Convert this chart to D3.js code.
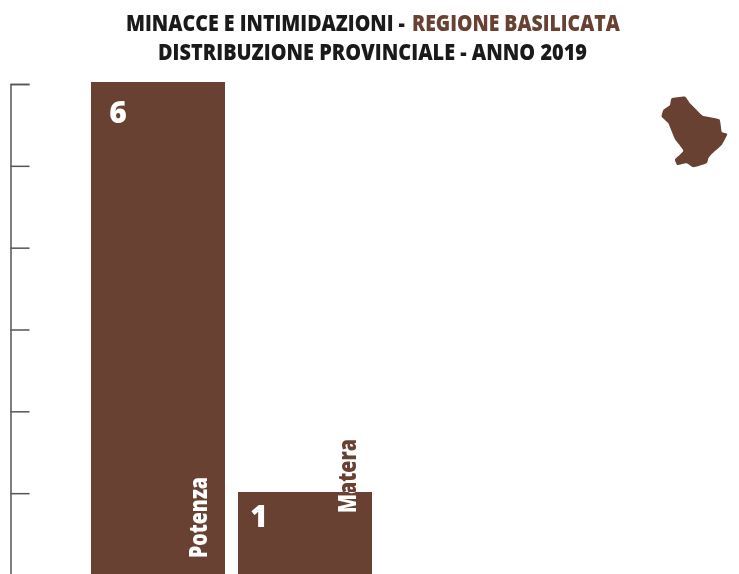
<!DOCTYPE html>
<html>
  <head>
    <meta charset="utf-8" />
    <title>Minacce e intimidazioni - Basilicata</title>
    <script src="https://d3js.org/d3.v7.min.js"></script>
    <style>
      html, body { margin: 0; padding: 0; background: #fff; }
      svg { display: block; filter: blur(0.6px); }
      text { font-family: "Open Sans", sans-serif; }
    </style>
  </head>

  <body>
    <svg id="viz"></svg>

    <script>
        var province = ["Potenza", "Matera"];
        var valori = [6, 1];
        var tickValori = [0, 1, 2, 3, 4, 5, 6];
        var mappaBasilicata = [[95,55],[135,50],[150,70],[165,85],[175,95],[190,108],[238,118],[245,155],[262,162],[245,195],[215,222],[205,235],[200,250],[160,262],[140,250],[112,255],[105,238],[130,212],[105,178],[85,130],[65,110],[70,90],[90,75]];

        var marrone = "#684133";
        var width = 739;
        var height = 574;

        var svg = d3.select("#viz")
            .attr("width", width)
            .attr("height", height);

        // due bande vuote a destra: il grafico occupa solo la parte sinistra
        var x = d3.scaleBand()
            .domain(province.concat(["", " "]))
            .range([91, 666])
            .paddingInner(13 / 147)
            .paddingOuter(0);

        var y = d3.scaleLinear().domain([0, 6]).range([574, 82]);
        var yAxisScale = d3.scaleLinear().domain([0, 6]).range([575, 84]);

        // asse: solo linea e tacche, senza etichette
        var axis = d3.axisRight(yAxisScale)
            .tickValues(tickValori)
            .tickSize(19)
            .tickFormat("");

        svg.append("g")
            .attr("transform", "translate(10.5,0)")
            .call(axis)
            .call(function(g) {
                g.selectAll("path").attr("stroke", "#555").attr("stroke-width", 1.5);
                g.selectAll("line").attr("stroke", "#555").attr("stroke-width", 1.5);
            });

        var dati = province.map(function(d, i) {
            return {nome: d, valore: valori[i]};
        });

        svg.selectAll("rect.bar")
            .data(dati)
            .enter().append("rect")
            .attr("class", "bar")
            .attr("x", function(d) { return x(d.nome); })
            .attr("y", function(d) { return y(d.valore); })
            .attr("width", x.bandwidth())
            .attr("height", function(d) { return y(0) - y(d.valore); })
            .attr("fill", marrone);

        // valori in alto a sinistra dentro la barra
        var valoreDx = {Potenza: 27, Matera: 21};
        var valoreDy = {Potenza: 41, Matera: 35};
        svg.selectAll("text.valore")
            .data(dati)
            .enter().append("text")
            .attr("class", "valore")
            .attr("x", function(d) { return x(d.nome) + valoreDx[d.nome]; })
            .attr("y", function(d) { return y(d.valore) + valoreDy[d.nome]; })
            .attr("text-anchor", "middle")
            .attr("font-size", 30)
            .attr("font-weight", 800)
            .attr("fill", "#fff")
            .text(function(d) { return d.valore; });

        // etichette ruotate: marroni fuori dalla barra, bianche dentro
        var etichettaX = {Potenza: 116, Matera: 118};
        var etichettaBase = {Potenza: 558, Matera: 513};
        var etichettaLung = {Potenza: 81, Matera: 74};

        svg.append("defs").selectAll("clipPath")
            .data(dati)
            .enter().append("clipPath")
            .attr("id", function(d) { return "clip-" + d.nome; })
            .append("rect")
            .attr("x", function(d) { return x(d.nome); })
            .attr("y", function(d) { return y(d.valore); })
            .attr("width", x.bandwidth())
            .attr("height", function(d) { return y(0) - y(d.valore); });

        function etichetta(sel, colore) {
            sel.append("text")
                .attr("transform", function(d) {
                    return "translate(" + (x(d.nome) + etichettaX[d.nome]) + "," + etichettaBase[d.nome] + ") rotate(-90)";
                })
                .attr("font-size", 25)
                .attr("font-weight", 800)
                .attr("fill", colore)
                .attr("textLength", function(d) { return etichettaLung[d.nome]; })
                .attr("lengthAdjust", "spacingAndGlyphs")
                .text(function(d) { return d.nome; });
        }

        svg.selectAll("g.prov-out")
            .data(dati)
            .enter().append("g")
            .attr("class", "prov-out")
            .call(etichetta, marrone);

        svg.selectAll("g.prov-in")
            .data(dati)
            .enter().append("g")
            .attr("class", "prov-in")
            .attr("clip-path", function(d) { return "url(#clip-" + d.nome + ")"; })
            .call(etichetta, "#fff");

        // titolo: font condensato non disponibile, si stringe con una scala orizzontale
        function titolo(testo, px, py, lung, colore) {
            var t = svg.append("text")
                .attr("font-size", 23).attr("font-weight", 800)
                .attr("fill", colore)
                .text(testo);
            var sx = lung / t.node().getComputedTextLength();
            t.attr("transform", "translate(" + px + "," + py + ") scale(" + sx + ",1)");
        }
        titolo("MINACCE E INTIMIDAZIONI -", 126, 31, 279, "#1a1a1a");
        titolo("REGIONE BASILICATA", 412, 31, 208, marrone);
        titolo("DISTRIBUZIONE PROVINCIALE - ANNO 2019", 158, 60, 429, "#1a1a1a");

        // sagoma della regione
        var mappaLine = d3.line()
            .x(function(d) { return 640 + d[0] / 3; })
            .y(function(d) { return 80 + d[1] / 3; })
            .curve(d3.curveCardinalClosed.tension(0.6));

        svg.append("path")
            .attr("d", mappaLine(mappaBasilicata))
            .attr("fill", marrone);
    </script>
  </body>
</html>
